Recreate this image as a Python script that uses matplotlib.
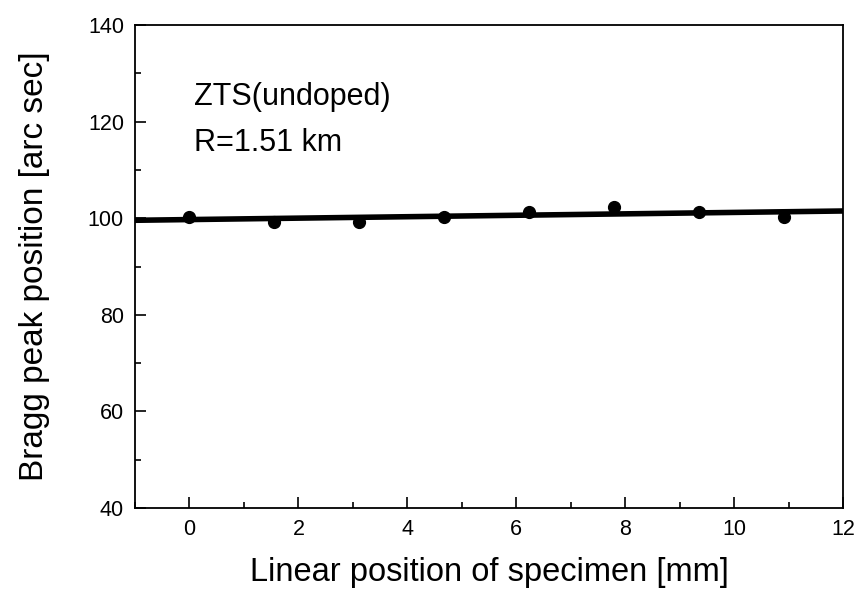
import numpy as np
import matplotlib
matplotlib.use("Agg")
import matplotlib.pyplot as plt
from matplotlib.ticker import MultipleLocator

plt.rcParams['font.family'] = ['Liberation Sans', 'DejaVu Sans']

# data
position_mm = [0.0, 1.56, 3.12, 4.68, 6.24, 7.80, 9.36, 10.92]
peak_arcsec = [100.3, 99.3, 99.3, 100.2, 101.3, 102.3, 101.3, 100.2]
x_ticks = [0, 2, 4, 6, 8, 10, 12]
y_ticks = [40, 60, 80, 100, 120, 140]

fig = plt.figure(figsize=(8.59, 5.92), dpi=100)
ax = fig.add_axes([135/859, 1-508/592, (843-135)/859, (508-25)/592])

ax.plot(position_mm, peak_arcsec, 'o', color='black', markersize=8.5, zorder=3)
coef = np.polyfit(position_mm, peak_arcsec, 1)
xl = np.array([-1, 12])
ax.plot(xl, np.polyval(coef, xl), '-', color='black', linewidth=4, zorder=2)

ax.set_xlim(-1, 12)
ax.set_ylim(40, 140)
ax.set_xticks(x_ticks)
ax.set_yticks(y_ticks)
ax.xaxis.set_minor_locator(MultipleLocator(1))
ax.yaxis.set_minor_locator(MultipleLocator(10))
ax.tick_params(which='both', direction='in', top=False, right=False, labelsize=15.5, width=1.2)
ax.tick_params(which='major', length=8, pad=8)
ax.tick_params(which='minor', length=4)
for s in ax.spines.values():
    s.set_linewidth(1.3)

ax.set_xlabel('Linear position of specimen [mm]', fontsize=23.5, labelpad=12)
ax.set_ylabel('Bragg peak position [arc sec]', fontsize=24, labelpad=27)

ax.text(0.083, 0.851, 'ZTS(undoped)', transform=ax.transAxes, fontsize=22, va='center')
ax.text(0.083, 0.756, 'R=1.51 km', transform=ax.transAxes, fontsize=22, va='center')

fig.savefig('out.png', dpi=100)
